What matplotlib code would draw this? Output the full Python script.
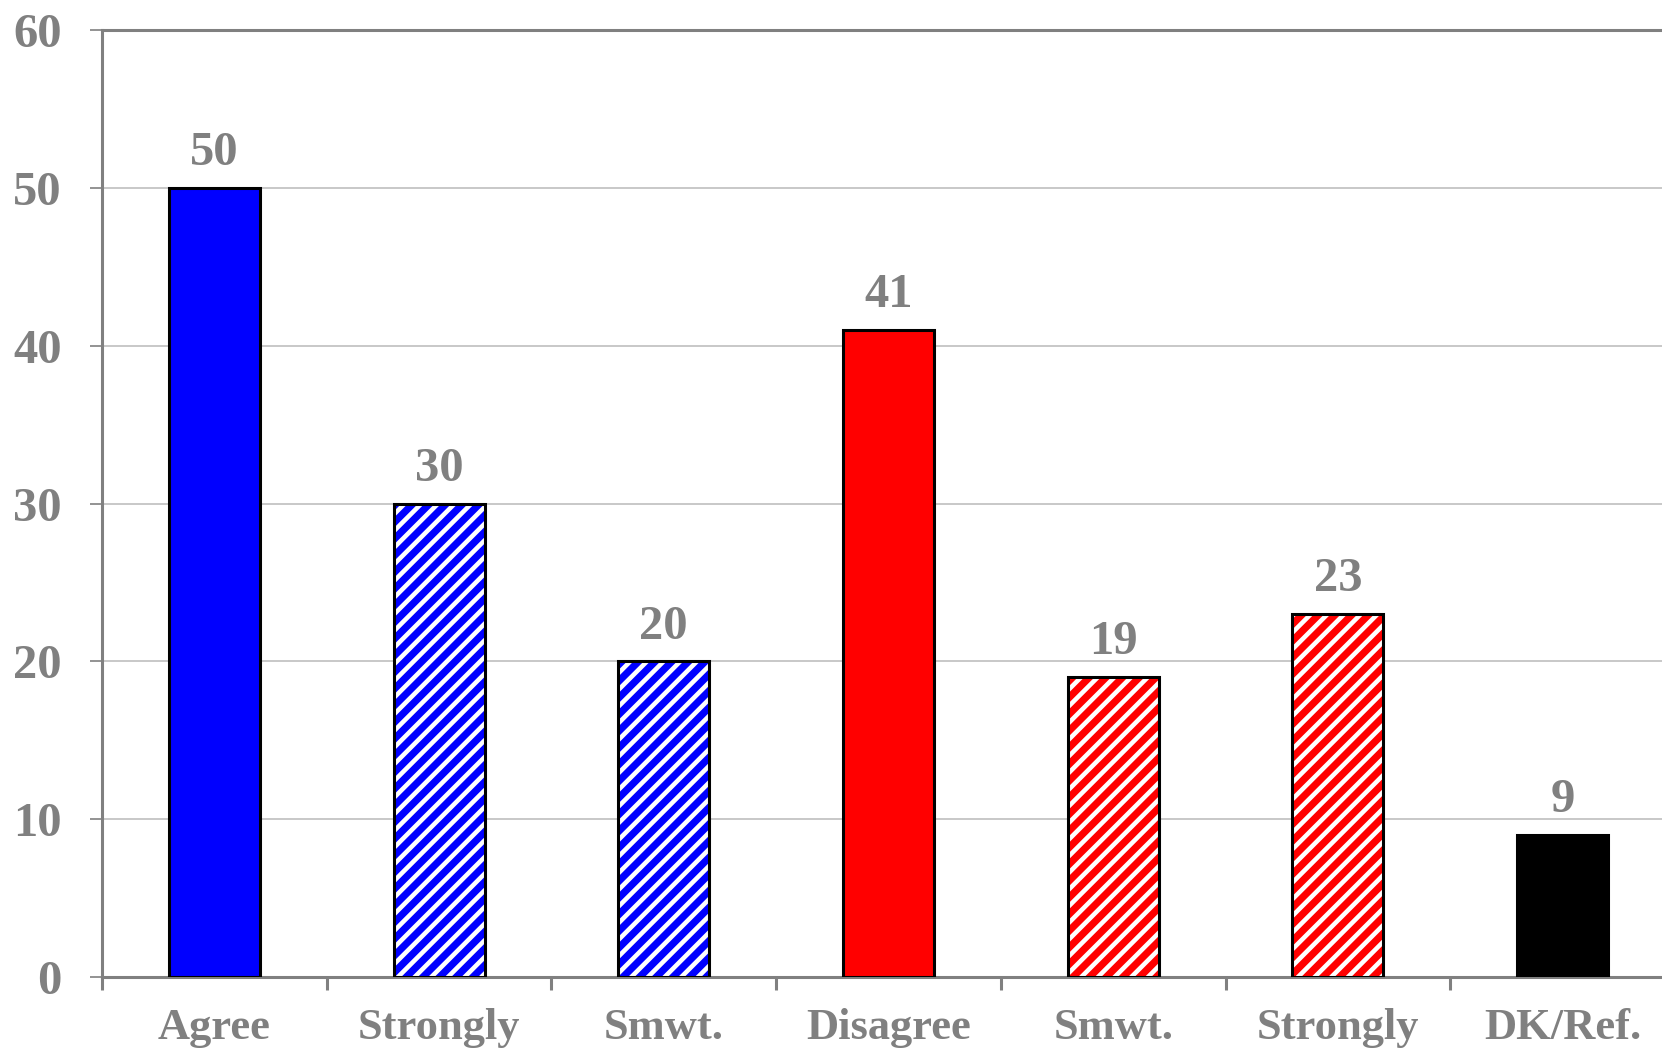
import matplotlib
matplotlib.use("Agg")
import matplotlib.pyplot as plt
from matplotlib.ticker import FixedLocator

categories = ["Agree", "Strongly", "Smwt.", "Disagree", "Smwt.", "Strongly", "DK/Ref."]
values = [50, 30, 20, 41, 19, 23, 9]
colors = ["#0000FF", "#0000FF", "#0000FF", "#FF0000", "#FF0000", "#FF0000", "#000000"]
hatched = [False, True, True, False, True, True, False]
yticks = [0, 10, 20, 30, 40, 50, 60]

GRAY = "#808080"
plt.rcParams["hatch.linewidth"] = 2.6
plt.rcParams["font.family"] = ["Liberation Serif", "DejaVu Serif"]

fig = plt.figure(figsize=(8.31, 5.24), dpi=200)
ax = fig.add_axes([102 / 1662, 1 - 977 / 1048, (1675 - 102) / 1662, (977 - 30) / 1048])

x = list(range(len(categories)))
w = 0.405
for xi, v, c, h in zip(x, values, colors, hatched):
    if h:
        ax.bar(xi, v, width=w, color="white", edgecolor=c, hatch="////", linewidth=0, zorder=3)
        ax.bar(xi, v, width=w, fill=False, edgecolor="black", linewidth=1.1, zorder=4)
    else:
        ax.bar(xi, v, width=w, color=c, edgecolor="black", linewidth=1.1, zorder=3)
    ax.text(xi, v + 0.8, str(v), ha="center", va="bottom", fontsize=17.5,
            fontweight="bold", color=GRAY)

ax.set_xlim(-0.5, len(categories) - 0.5)
ax.set_ylim(0, 60)
ax.set_yticks(yticks)
ax.set_yticklabels([str(t) for t in yticks])
ax.yaxis.grid(True, color="#BFBFBF", linewidth=0.6, zorder=0)
ax.set_axisbelow(True)

ax.set_xticks(x)
ax.set_xticklabels(categories)
ax.xaxis.set_minor_locator(FixedLocator([i - 0.5 for i in range(len(categories) + 1)]))
ax.tick_params(axis="x", which="major", length=0, pad=11)
ax.tick_params(axis="x", which="minor", length=4.5, width=1.1, color=GRAY, direction="out")
ax.tick_params(axis="y", length=4.5, width=0.6, color=GRAY, direction="out", pad=10)

for lab in ax.get_yticklabels():
    lab.set_fontsize(17.5)
    lab.set_fontweight("bold")
    lab.set_color(GRAY)
for lab in ax.get_xticklabels():
    lab.set_fontsize(16)
    lab.set_fontweight("bold")
    lab.set_color(GRAY)

for s in ["left", "bottom", "top", "right"]:
    ax.spines[s].set_color(GRAY)
    ax.spines[s].set_linewidth(1.1)

fig.savefig("out.png", dpi=200)
